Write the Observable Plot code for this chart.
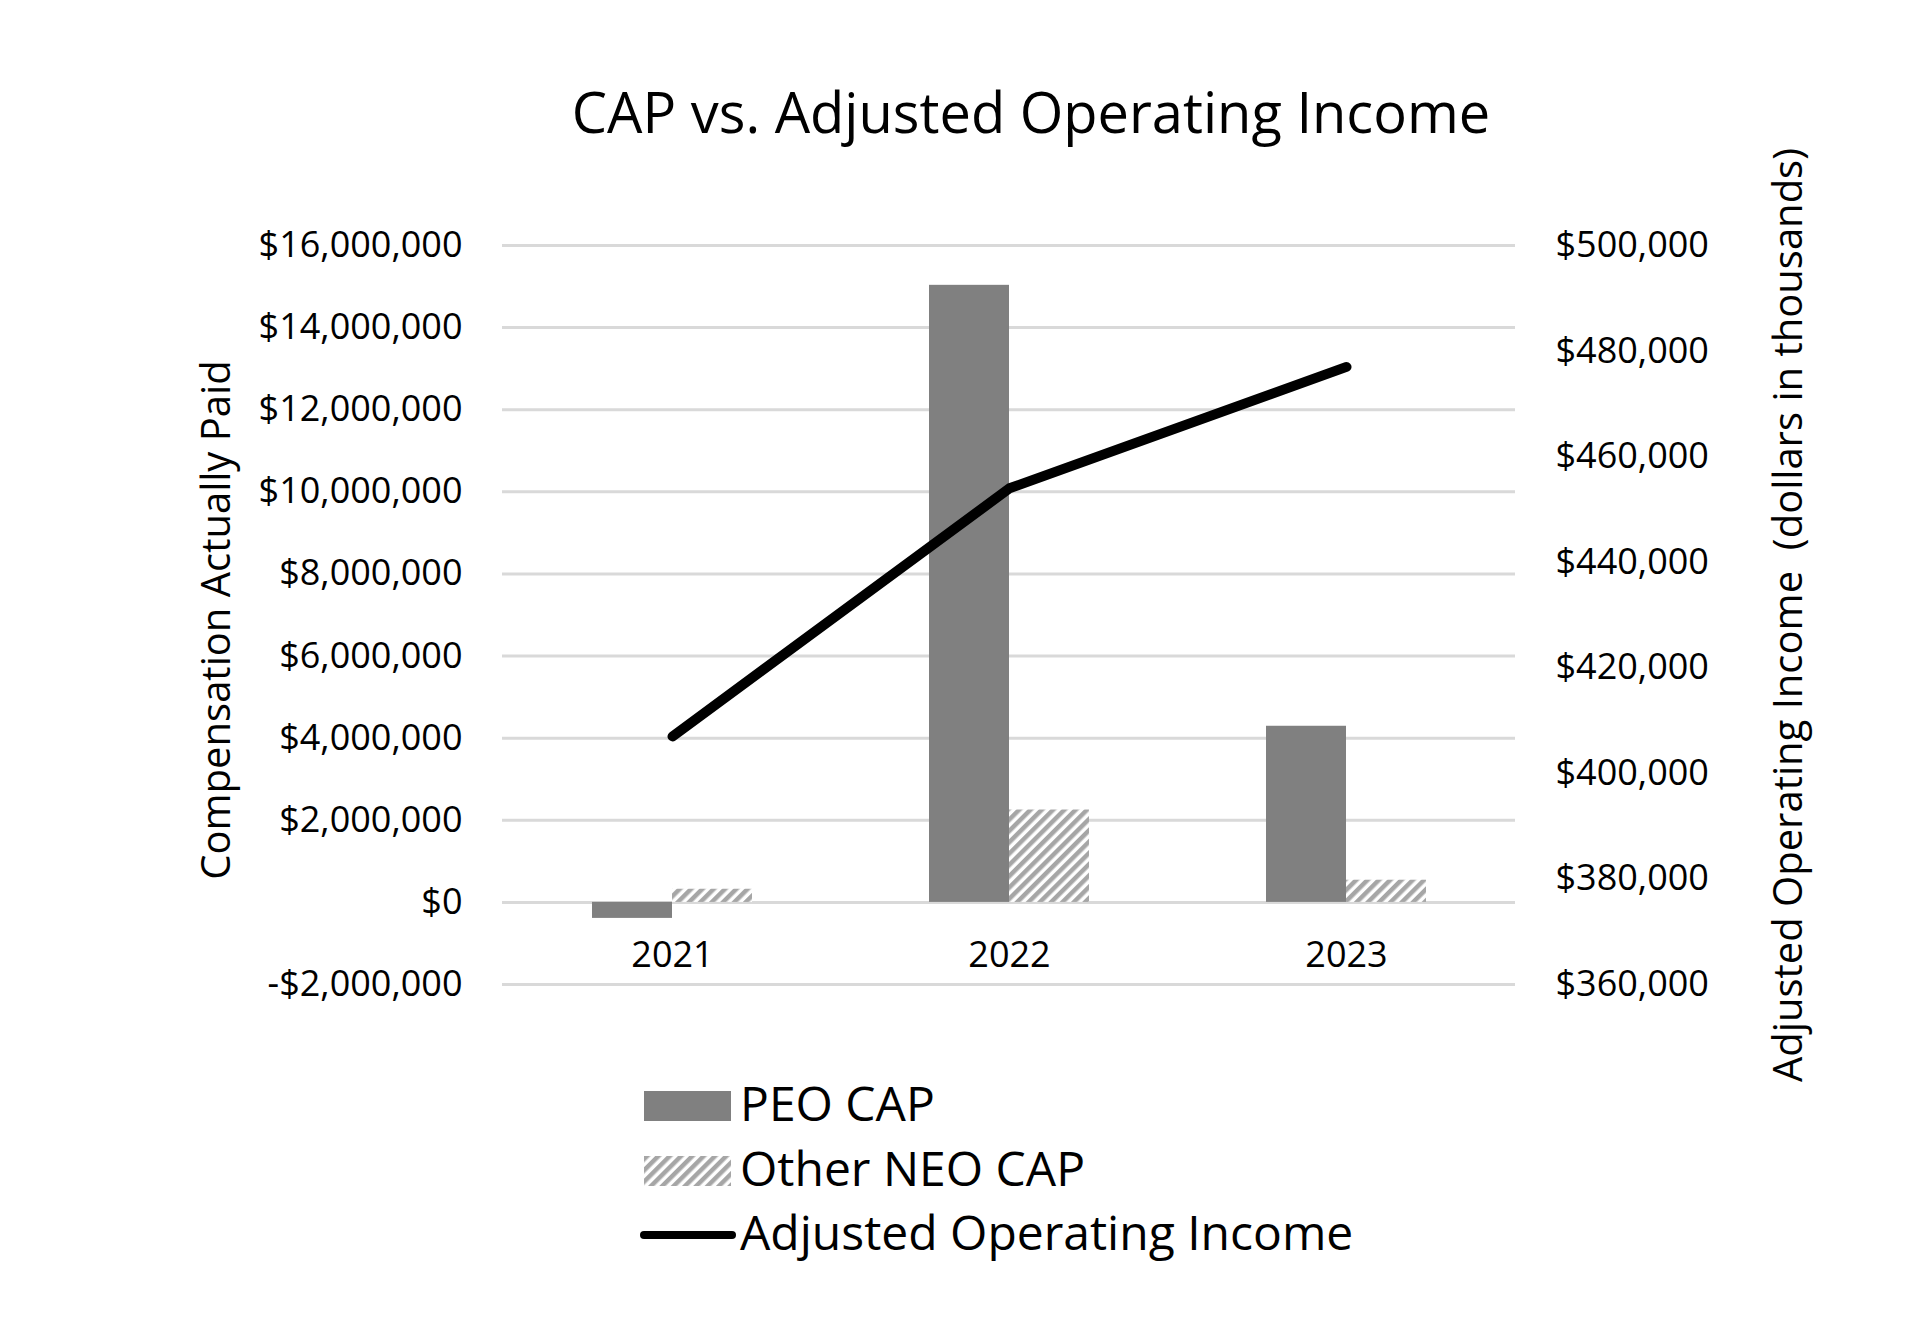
<!DOCTYPE html>
<html>
<head>
<meta charset="utf-8">
<script src="https://cdn.jsdelivr.net/npm/d3@7"></script>
<script src="https://cdn.jsdelivr.net/npm/@observablehq/plot@0.6"></script>
<style>
  body { margin: 0; background: #fff; font-family: "Open Sans", sans-serif; color: #000; }
  #wrap { position: relative; width: 1907px; height: 1317px; overflow: hidden; }
  #title { position: absolute; left: 0; width: 2062px; text-align: center; top: 83px; font-size: 56px; line-height: 1; white-space: nowrap; }
  #chart { position: absolute; left: 0; top: 140px; }
  #chart text { white-space: pre; }
  .lg { position: absolute; font-size: 48px; line-height: 1; white-space: nowrap; }
  .sw { position: absolute; }
</style>
</head>
<body>
<div id="wrap">
  <div id="title">CAP vs. Adjusted Operating Income</div>
  <div id="chart"></div>
  <div id="legend"></div>
</div>
<script>
// ---- data ----
const years = ["2021", "2022", "2023"];
const peoCap = [-390000, 15030000, 4290000];
const otherNeoCap = [320000, 2250000, 540000];
const adjOperatingIncome = [407000, 454000, 477000]; // dollars in thousands
const leftTicks = [-2000000, 0, 2000000, 4000000, 6000000, 8000000, 10000000, 12000000, 14000000, 16000000];
const rightTicks = [360000, 380000, 400000, 420000, 440000, 460000, 480000, 500000];
const seriesNames = ["PEO CAP", "Other NEO CAP", "Adjusted Operating Income"];
const leftTitle = "Compensation Actually Paid";
const rightTitle = "Adjusted Operating Income  (dollars in thousands)";

const table = years.map((year, i) => ({year, peo: peoCap[i], neo: otherNeoCap[i], aoi: adjOperatingIncome[i]}));

const toLeft = d3.scaleLinear([360000, 500000], [-2000000, 16000000]);
const money = d => (d < 0 ? "-" : "") + "$" + d3.format(",")(Math.abs(Math.round(d)));

const chart = Plot.plot({
  width: 1907,
  height: 950,
  marginLeft: 502,
  marginRight: 392,
  marginTop: 105,
  marginBottom: 106,
  style: {fontFamily: "Open Sans", fontSize: "36px", color: "#000", background: "transparent", overflow: "visible"},
  x: {domain: years, paddingInner: 0.526, paddingOuter: 0.263},
  y: {domain: [-2000000, 16000000]},
  marks: [
    Plot.ruleY(leftTicks, {stroke: "#d9d9d9", strokeWidth: 3}),
    Plot.barY(table, {x: "year", y: "peo", fill: "#808080", insetRight: 80}),
    Plot.barY(table, {x: "year", y: "neo", fill: "url(#hatch)", insetLeft: 80}),
    Plot.lineY(table, {x: "year", y: d => toLeft(d.aoi), stroke: "#000", strokeWidth: 10, strokeLinecap: "round", strokeLinejoin: "round"}),
    Plot.axisY(leftTicks, {anchor: "left", tickSize: 0, tickPadding: 40, tickFormat: money, label: null, fontSize: 36}),
    Plot.axisY(rightTicks.map(d => toLeft(d)), {anchor: "right", tickSize: 0, tickPadding: 40, tickFormat: d => money(toLeft.invert(d)), label: null, fontSize: 36}),
    Plot.axisX({anchor: "bottom", tickSize: 0, tickPadding: 0, dy: -43, label: null, fontSize: 36}),
    Plot.text([leftTitle], {frameAnchor: "left", dx: -285, dy: 5, rotate: -90, textAnchor: "middle", fontSize: 40}),
    Plot.text([rightTitle], {frameAnchor: "right", dx: 274, dy: 0, rotate: -90, textAnchor: "middle", fontSize: 40})
  ]
});

// hatch pattern for Other NEO CAP
function addHatch(svgNode, id) {
  const defs = d3.select(svgNode).insert("defs", ":first-child");
  const p = defs.append("pattern").attr("id", id).attr("patternUnits", "userSpaceOnUse")
    .attr("width", 8).attr("height", 8).attr("patternTransform", "rotate(45)");
  p.append("rect").attr("width", 8).attr("height", 8).attr("fill", "#fff");
  p.append("rect").attr("width", 4.5).attr("height", 8).attr("fill", "#a6a6a6");
}
addHatch(chart, "hatch");
document.getElementById("chart").appendChild(chart);

// legend
const legend = d3.select("#legend");
legend.append("div").attr("class", "sw").style("left", "644px").style("top", "1091px")
  .style("width", "87px").style("height", "30px").style("background", "#808080");
legend.append("div").attr("class", "lg").style("left", "740px").style("top", "1079px").text(seriesNames[0]);

const sw2 = legend.append("svg").attr("class", "sw").style("left", "644px").style("top", "1156px")
  .attr("width", 87).attr("height", 30);
addHatch(sw2.node(), "hatch2");
sw2.append("rect").attr("width", 87).attr("height", 30).attr("fill", "url(#hatch2)");
legend.append("div").attr("class", "lg").style("left", "740px").style("top", "1144px").text(seriesNames[1]);

const sw3 = legend.append("svg").attr("class", "sw").style("left", "638px").style("top", "1227px")
  .attr("width", 100).attr("height", 16);
sw3.append("line").attr("x1", 6).attr("x2", 94).attr("y1", 8).attr("y2", 8)
  .attr("stroke", "#000").attr("stroke-width", 8).attr("stroke-linecap", "round");
legend.append("div").attr("class", "lg").style("left", "740px").style("top", "1208px").text(seriesNames[2]);
</script>
</body>
</html>
